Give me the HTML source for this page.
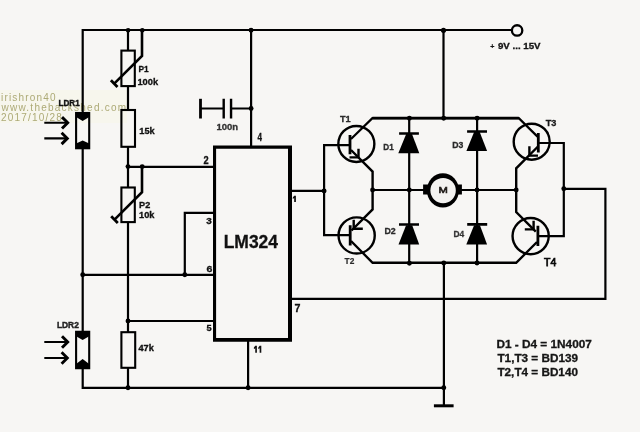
<!DOCTYPE html>
<html><head><meta charset="utf-8"><title>LDR motor tracker circuit</title>
<style>
html,body{margin:0;padding:0;background:#f7f6f4;}
svg{display:block;}
.lbl text,.wm{will-change:transform;}
text{font-family:"Liberation Sans",sans-serif;}

.wm{font-size:10px;fill:#adaa76;letter-spacing:1px;}
</style></head>
<body>
<svg width="640" height="432" viewBox="0 0 640 432">
<rect width="640" height="432" fill="#f7f6f4"/>

<!-- watermark -->
<rect x="0" y="90" width="127" height="33" fill="#f7f7e4" opacity="0.45"/>
<text class="wm" x="1.0" y="100.7" textLength="55.6" lengthAdjust="spacing">irishron40</text>
<text class="wm" x="1.5" y="110.6" textLength="125.6" lengthAdjust="spacing">www.thebackshed.com</text>
<text class="wm" x="1.0" y="120.5" textLength="61.8" lengthAdjust="spacing">2017/10/28</text>

<g fill="none" stroke="#000" stroke-width="2.2" stroke-linejoin="miter" stroke-linecap="butt">
  <!-- top rail -->
  <path d="M82.7,30 H511.5"/>
  <!-- left vertical -->
  <path d="M82.7,28.9 V113 M82.7,148.5 V332 M82.7,368 V387.8 H444"/>
  <!-- ladder -->
  <path d="M128,30 V50 M128,86.5 V110 M128,147 V187 M128,222.5 V332 M128,368 V387.8"/>
  <!-- wipers -->
  <path stroke-width="2.6" d="M142,30 V56 L114.2,83.6"/>
  <path stroke-width="2.8" d="M110.9,80.3 L117.5,86.9"/>
  <path stroke-width="2.6" d="M142,166.5 V192.2 L114.5,219.6"/>
  <path stroke-width="2.8" d="M111.2,216.3 L117.8,222.9"/>
  <!-- pin wires -->
  <path d="M128,166.8 H214"/>
  <path d="M214,212.9 H184.8 V274.8"/>
  <path d="M82.7,274.8 H214"/>
  <path d="M128,321 H214"/>
  <path d="M248.1,340 V387.8"/>
  <path d="M251.1,30 V146"/>
  <!-- capacitor -->
  <path d="M200.5,108.5 H223.5 M231,108.5 H251.1"/>
  <!-- pin 1 / bases -->
  <path d="M290,190.9 H324.1"/>
  <path d="M350,145.1 H324.1 V235.2 H350"/>
  <!-- pin 7 feedback -->
  <path d="M290,298.8 H605.4 V188.8 H563.8 V143 H538"/>
  <path d="M563.8,188.8 V236.1 H537.5"/>
  <!-- supply & ground -->
  <path d="M443.5,30 V118.2"/>
  <path d="M443.9,263 V405.8"/>
  <!-- T1 -->
  <path d="M351,139 L372.4,118.1 H518.8 L537.5,136.6"/>
  <path stroke-width="2.6" d="M372.4,118.1 H518.8"/>
  <g stroke-width="2.4">
  <path d="M351,150 L372.6,171.6 V209.4 L351.5,230.5"/>
  <path d="M351,241 L372.6,262.8 H516.2 L537,242"/>
  <path d="M538,146.5 L516.2,168.3 V212.1 L535.8,231.7"/>
  <!-- arrows -->
  <path d="M358.5,148.7 V157.4 H349.5"/>
  <path d="M529.4,146.3 V155.6 H538"/>
  <path d="M353.7,219.8 V228.8 H362.8"/>
  <path d="M533.6,220.7 V229.4 H524.8"/>
  </g>
  <!-- circles -->
  <g stroke-width="2.4">
  <circle cx="356.35" cy="143.95" r="18.0"/>
  <circle cx="531.7" cy="141.7" r="18.0"/>
  <circle cx="356.65" cy="235.45" r="18.1"/>
  <circle cx="530.65" cy="236.1" r="18.1"/>
  </g>
  <!-- diode columns and mid rails -->
  <path d="M409.2,118 V263 M477.1,118 V263"/>
  <path d="M372.6,190 H424 M461,190 H516.2"/>
  <!-- LDR arrows -->

</g>

<g fill="none" stroke="#000" stroke-linejoin="miter" stroke-miterlimit="4">
  <path stroke-width="2.1" d="M44.3,122.8 H66.5 M44.3,138.4 H66 M44.3,342 H66.5 M44.3,358 H66"/>
  <path stroke-width="2.9" d="M62,117.1 L67.7,122.8 L62,128.5 M61.6,132.7 L67.3,138.4 L61.6,144.1 M62,336.3 L67.7,342 L62,347.7 M61.6,352.3 L67.3,358 L61.6,363.7"/>
</g>
<!-- thicker strokes -->
<g fill="none" stroke="#000">
  <!-- base bars -->
  <path stroke-width="2.8" d="M350,134.9 V154.3 M538.3,132.9 V152.6 M350.2,225.3 V245.5 M537.9,225.7 V246"/>
  <!-- cap plates -->
  <path stroke-width="2.8" d="M200.5,98.8 V118.5"/>
  <path stroke-width="2.4" d="M223.7,98.8 V118.4 M231.05,98.8 V118.4"/>
  <!-- resistor boxes -->
  <rect stroke-width="2.1" x="121.4" y="50.6" width="13.4" height="35.5"/>
  <rect stroke-width="2.1" x="121.4" y="110" width="13.6" height="36.8"/>
  <rect stroke-width="2.1" x="121.4" y="187.5" width="13.4" height="34.6"/>
  <rect stroke-width="2.1" x="121.4" y="332.2" width="13.8" height="35.6"/>
  <!-- LM324 -->
  <path fill="#000" stroke="none" fill-rule="evenodd" d="M213,145.5 H292 V341.85 H213 Z M216.1,148.8 V337.9 H288 V148.8 Z"/>
  <!-- LDR boxes -->
  <rect stroke-width="2.1" x="76.1" y="113" width="13.1" height="35.25"/>
  <rect stroke-width="2.1" x="76.1" y="331.8" width="13.1" height="36.4"/>
  <!-- ground bar -->
  <path stroke-width="3" d="M433.9,405.8 H453.6"/>
  <!-- diode bars -->
  <path stroke-width="2.6" d="M399.1,133.5 H418.9 M467.1,131.5 H487 M399,224.5 H419 M467.2,224.4 H487.2"/>
  <!-- motor -->
  <ellipse cx="442.9" cy="190.35" rx="16" ry="17.1" fill="#000" stroke="none"/>
  <circle cx="443.1" cy="190.6" r="12.7" fill="#f3f2f0" stroke="none"/>
  <!-- supply terminal -->
  <circle stroke-width="2.3" cx="517.1" cy="30.45" r="5.2" fill="#f7f6f4"/>
</g>

<!-- filled shapes -->
<g fill="#000" stroke="none">
  <!-- diode triangles -->
  <path d="M406.2,134 H412 L419.3,153.3 H398.3 Z"/>
  <path d="M474.1,132 H479.7 L487.1,150.9 H466.4 Z"/>
  <path d="M406.1,225.3 H412.2 L419.2,244.6 H398.5 Z"/>
  <path d="M474.1,225.3 H479.9 L487.1,244.6 H466.3 Z"/>
  <!-- motor brushes -->
  <rect x="423.1" y="184.5" width="6.3" height="10"/>
  <rect x="456.9" y="184.5" width="5" height="10"/>
  <!-- LDR fills -->
  <path d="M76.1,113 H89.2 V117 L82.65,121 L76.1,117 Z"/>
  <path d="M76.1,148.3 H89.2 V143.6 L82.65,140.4 L76.1,143.6 Z"/>
  <path d="M76.1,331.8 H89.2 V336.2 L82.65,340 L76.1,336.2 Z"/>
  <path d="M76.1,368.2 H89.2 V363.9 L82.65,359.1 L76.1,363.9 Z"/>
  <!-- dots -->
  <circle cx="128.1" cy="30.2" r="2.3"/>
  <circle cx="142.3" cy="30.2" r="2.3"/>
  <circle cx="251.05" cy="30.3" r="2.45"/>
  <circle cx="443.5" cy="30.3" r="2.6"/>
  <circle cx="251.1" cy="108.5" r="2.45"/>
  <circle cx="128" cy="166.6" r="2.45"/>
  <circle cx="142.2" cy="166.6" r="2.45"/>
  <circle cx="82.7" cy="274.8" r="2.45"/>
  <circle cx="184.8" cy="274.8" r="2.45"/>
  <circle cx="128" cy="321" r="2.45"/>
  <circle cx="128" cy="387.8" r="2.45"/>
  <circle cx="248.1" cy="387.8" r="2.45"/>
  <circle cx="443.8" cy="387.8" r="2.45"/>
  <circle cx="324.1" cy="190.9" r="2.45"/>
  <circle cx="409.4" cy="118.3" r="2.45"/>
  <circle cx="443.7" cy="118.3" r="2.45"/>
  <circle cx="477.1" cy="118.3" r="2.45"/>
  <circle cx="372.6" cy="190" r="2.45"/>
  <circle cx="409.3" cy="190" r="2.45"/>
  <circle cx="477" cy="190" r="2.45"/>
  <circle cx="516.2" cy="190" r="2.45"/>
  <circle cx="563.8" cy="188.8" r="2.45"/>
  <circle cx="409.4" cy="263.3" r="2.45"/>
  <circle cx="443.8" cy="263" r="2.45"/>
  <circle cx="477" cy="263" r="2.45"/>
</g>

<!-- labels -->
<g class="lbl">
  <text x="497.95" y="48.55" font-size="8.736" font-weight="bold" textLength="42.62" lengthAdjust="spacingAndGlyphs" style="fill:#151515;stroke:#151515;stroke-width:0.3px">9V ... 15V</text>
  <text x="138.41" y="72.35" font-size="9.157" font-weight="bold" textLength="10.21" lengthAdjust="spacingAndGlyphs" style="fill:#111;stroke:#111;stroke-width:0.3px">P1</text>
  <text x="137.42" y="85.45" font-size="9.246" font-weight="bold" textLength="20.73" lengthAdjust="spacingAndGlyphs" style="fill:#111;stroke:#111;stroke-width:0.3px">100k</text>
  <text x="139.26" y="134.45" font-size="8.418" font-weight="bold" textLength="15.43" lengthAdjust="spacingAndGlyphs" style="fill:#111;stroke:#111;stroke-width:0.3px">15k</text>
  <text x="139.06" y="207.85" font-size="8.593" font-weight="bold" textLength="11.16" lengthAdjust="spacingAndGlyphs" style="fill:#111;stroke:#111;stroke-width:0.3px">P2</text>
  <text x="139.07" y="217.55" font-size="8.280" font-weight="bold" textLength="15.44" lengthAdjust="spacingAndGlyphs" style="fill:#111;stroke:#111;stroke-width:0.3px">10k</text>
  <text x="138.51" y="351.32" font-size="8.211" font-weight="bold" textLength="15.24" lengthAdjust="spacingAndGlyphs" style="fill:#111;stroke:#111;stroke-width:0.35px">47k</text>
  <text x="58.61" y="106.30" font-size="8.866" font-weight="bold" textLength="21.05" lengthAdjust="spacingAndGlyphs" style="fill:#111;stroke:#111;stroke-width:0.4px">LDR1</text>
  <text x="56.95" y="328.10" font-size="8.163" font-weight="bold" textLength="21.87" lengthAdjust="spacingAndGlyphs" style="fill:#222;stroke:#222;stroke-width:0.4px">LDR2</text>
  <text x="216.47" y="130.45" font-size="8.593" font-weight="bold" textLength="21.68" lengthAdjust="spacingAndGlyphs" style="fill:#333;stroke:#333;stroke-width:0.3px">100n</text>
  <text x="257.61" y="141.45" font-size="10.175" font-weight="bold" textLength="4.49" lengthAdjust="spacingAndGlyphs" style="fill:#111;stroke:#111;stroke-width:0.3px">4</text>
  <text x="203.51" y="163.60" font-size="10.670" font-weight="bold" textLength="5.16" lengthAdjust="spacingAndGlyphs" style="fill:#111;stroke:#111;stroke-width:0.3px">2</text>
  <text x="206.16" y="224.45" font-size="9.739" font-weight="bold" textLength="5.57" lengthAdjust="spacingAndGlyphs" style="fill:#111;stroke:#111;stroke-width:0.3px">3</text>
  <text x="206.51" y="271.65" font-size="9.452" font-weight="bold" textLength="5.88" lengthAdjust="spacingAndGlyphs" style="fill:#111;stroke:#111;stroke-width:0.3px">6</text>
  <text x="206.57" y="331.25" font-size="9.012" font-weight="bold" textLength="5.14" lengthAdjust="spacingAndGlyphs" style="fill:#111;stroke:#111;stroke-width:0.3px">5</text>
  <text x="294.56" y="311.75" font-size="11.192" font-weight="bold" textLength="5.96" lengthAdjust="spacingAndGlyphs" style="fill:#111;stroke:#111;stroke-width:0.3px">7</text>
  <text x="223.68" y="247.75" font-size="18.045" font-weight="bold" textLength="54.38" lengthAdjust="spacingAndGlyphs" style="fill:#111;stroke:#111;stroke-width:0.3px">LM324</text>
  <text x="340.01" y="121.55" font-size="9.302" font-weight="bold" textLength="10.74" lengthAdjust="spacingAndGlyphs" style="fill:#2a2a2a;stroke:#2a2a2a;stroke-width:0.3px">T1</text>
  <text x="545.73" y="126.45" font-size="9.023" font-weight="bold" textLength="10.72" lengthAdjust="spacingAndGlyphs" style="fill:#1a1a1a;stroke:#1a1a1a;stroke-width:0.3px">T3</text>
  <text x="344.56" y="263.80" font-size="9.309" font-weight="bold" textLength="9.74" lengthAdjust="spacingAndGlyphs" style="fill:#2a2a2a;stroke:#2a2a2a;stroke-width:0.2px">T2</text>
  <text x="544.09" y="265.9" font-size="10.6" font-weight="normal" textLength="12.27" lengthAdjust="spacingAndGlyphs" style="fill:#0a0a0a;stroke:#0a0a0a;stroke-width:0.75px">T4</text>
  <text x="383.32" y="150.35" font-size="8.648" font-weight="bold" textLength="10.39" lengthAdjust="spacingAndGlyphs" style="fill:#2a2a2a;stroke:#2a2a2a;stroke-width:0.3px">D1</text>
  <text x="452.17" y="147.60" font-size="9.094" font-weight="bold" textLength="11.10" lengthAdjust="spacingAndGlyphs" style="fill:#2a2a2a;stroke:#2a2a2a;stroke-width:0.3px">D3</text>
  <text x="384.39" y="233.60" font-size="9.094" font-weight="bold" textLength="11.25" lengthAdjust="spacingAndGlyphs" style="fill:#2a2a2a;stroke:#2a2a2a;stroke-width:0.3px">D2</text>
  <text x="453.44" y="236.60" font-size="9.012" font-weight="bold" textLength="10.75" lengthAdjust="spacingAndGlyphs" style="fill:#333;stroke:#333;stroke-width:0.3px">D4</text>
  <text x="438.6" y="192.55" font-size="8.4" font-weight="normal" textLength="9.3" lengthAdjust="spacingAndGlyphs" style="fill:#1e1a17;stroke:#1e1a17;stroke-width:0.55px">M</text>
  <text x="496.44" y="348.45" font-size="11.171" font-weight="bold" textLength="95.44" lengthAdjust="spacingAndGlyphs" style="fill:#151515;stroke:#151515;stroke-width:0.3px">D1 - D4 = 1N4007</text>
  <text x="497.45" y="362.25" font-size="10.884" font-weight="bold" textLength="80.54" lengthAdjust="spacingAndGlyphs" style="fill:#151515;stroke:#151515;stroke-width:0.3px">T1,T3 = BD139</text>
  <text x="497.45" y="376.45" font-size="11.314" font-weight="bold" textLength="80.50" lengthAdjust="spacingAndGlyphs" style="fill:#151515;stroke:#151515;stroke-width:0.3px">T2,T4 = BD140</text>
  <text x="490.30" y="48.82" font-size="7.88" font-weight="bold" textLength="4.19" lengthAdjust="spacingAndGlyphs" style="fill:#151515;stroke:#151515;stroke-width:0.2px">+</text>
  <path d="M294.19,195.80 L295.90,195.80 L295.90,202.00 L294.19,202.00 L294.19,198.03 L292.80,198.90 L292.80,197.47 Z M255.25,345.70 L256.90,345.70 L256.90,352.70 L255.25,352.70 L255.25,348.22 L253.90,349.20 L253.90,347.59 Z M259.65,345.70 L261.30,345.70 L261.30,352.70 L259.65,352.70 L259.65,348.22 L258.30,349.20 L258.30,347.59 Z" fill="#111" stroke="none"/>
</g>
</svg>
</body></html>
